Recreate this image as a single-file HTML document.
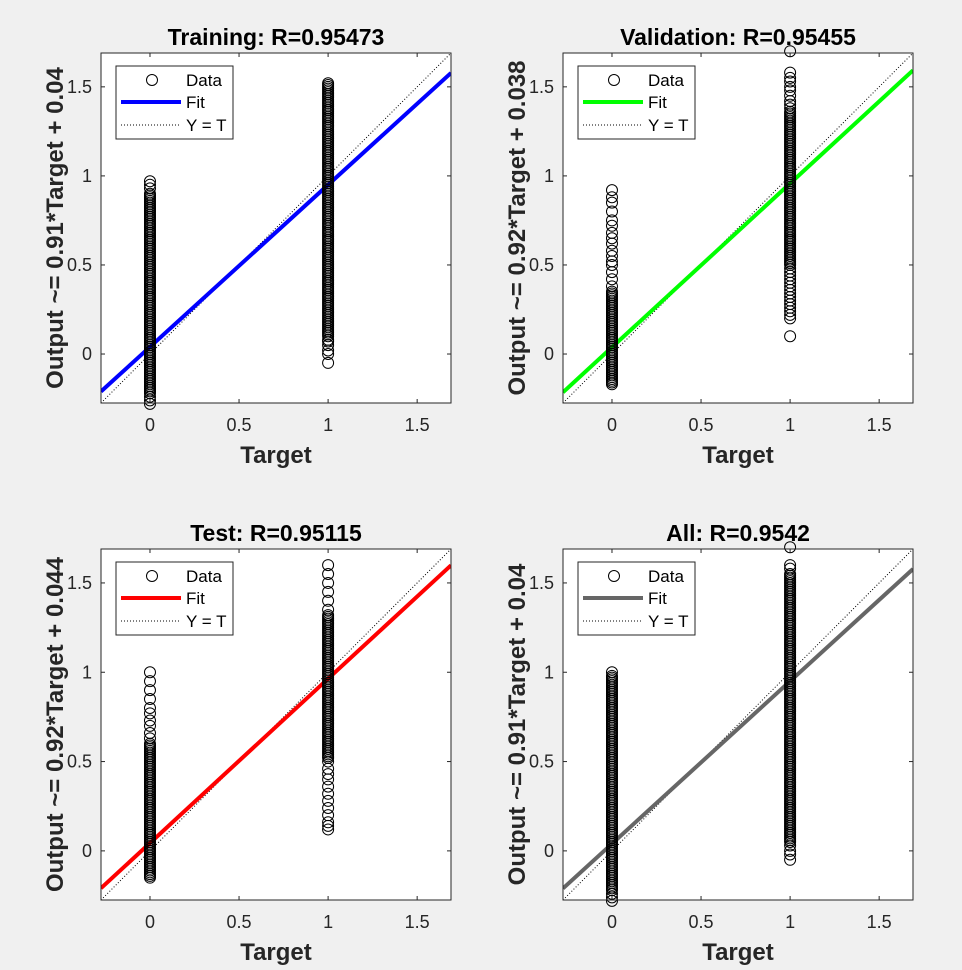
<!DOCTYPE html>
<html><head><meta charset="utf-8">
<style>
html,body{margin:0;padding:0;background:#f0f0f0;}
svg{display:block;font-family:"Liberation Sans",Arial,sans-serif;}
</style></head>
<body>
<svg id="fig" width="962" height="970" viewBox="0 0 962 970"></svg>
<script>
// ---- data ----
const panelTitles = ["Training: R=0.95473","Validation: R=0.95455","Test: R=0.95115","All: R=0.9542"];
const yLabels = ["Output ~= 0.91*Target + 0.04","Output ~= 0.92*Target + 0.038","Output ~= 0.92*Target + 0.044","Output ~= 0.91*Target + 0.04"];
const fitSlopes = [0.91,0.92,0.92,0.91];
const fitIntercepts = [0.04,0.038,0.044,0.04];
const fitColors = ["#0000ff","#00ff00","#ff0000","#666666"];
const tickValues = [0,0.5,1,1.5];
const tickLabels = ["0","0.5","1","1.5"];
// output values for target = 0 and target = 1, per panel
const trainT0 = [-0.28,-0.26,-0.24,-0.22,-0.21,-0.2,-0.19,-0.18,-0.17,-0.16,-0.15,-0.14,-0.13,-0.12,-0.11,-0.1,-0.09,-0.08,-0.07,-0.06,-0.05,-0.04,-0.03,-0.02,-0.01,0,0.01,0.02,0.03,0.04,0.05,0.06,0.07,0.08,0.09,0.1,0.11,0.12,0.13,0.14,0.15,0.16,0.17,0.18,0.19,0.2,0.21,0.22,0.23,0.24,0.25,0.26,0.27,0.28,0.29,0.3,0.31,0.32,0.33,0.34,0.35,0.36,0.37,0.38,0.39,0.4,0.41,0.42,0.43,0.44,0.45,0.46,0.47,0.48,0.49,0.5,0.51,0.52,0.53,0.54,0.55,0.56,0.57,0.58,0.59,0.6,0.61,0.62,0.63,0.64,0.65,0.66,0.67,0.68,0.69,0.7,0.71,0.72,0.73,0.74,0.75,0.76,0.77,0.78,0.79,0.8,0.81,0.82,0.83,0.84,0.85,0.86,0.87,0.88,0.89,0.9,0.93,0.95,0.97];
const trainT1 = [-0.05,0,0.02,0.05,0.07,0.08,0.1,0.11,0.12,0.13,0.14,0.15,0.16,0.17,0.18,0.19,0.2,0.21,0.22,0.23,0.24,0.25,0.26,0.27,0.28,0.29,0.3,0.31,0.32,0.33,0.34,0.35,0.36,0.37,0.38,0.39,0.4,0.41,0.42,0.43,0.44,0.45,0.46,0.47,0.48,0.49,0.5,0.51,0.52,0.53,0.54,0.55,0.56,0.57,0.58,0.59,0.6,0.61,0.62,0.63,0.64,0.65,0.66,0.67,0.68,0.69,0.7,0.71,0.72,0.73,0.74,0.75,0.76,0.77,0.78,0.79,0.8,0.81,0.82,0.83,0.84,0.85,0.86,0.87,0.88,0.89,0.9,0.91,0.92,0.93,0.94,0.95,0.96,0.97,0.98,0.99,1,1.01,1.02,1.03,1.04,1.05,1.06,1.07,1.08,1.09,1.1,1.11,1.12,1.13,1.14,1.15,1.16,1.17,1.18,1.19,1.2,1.21,1.22,1.23,1.24,1.25,1.26,1.27,1.28,1.29,1.3,1.31,1.32,1.33,1.34,1.35,1.36,1.37,1.38,1.39,1.4,1.41,1.42,1.43,1.44,1.45,1.46,1.47,1.48,1.49,1.5,1.51,1.52];
const valT0 = [-0.17,-0.16,-0.15,-0.14,-0.13,-0.12,-0.11,-0.1,-0.09,-0.08,-0.07,-0.06,-0.05,-0.04,-0.03,-0.02,-0.01,0,0.01,0.02,0.03,0.04,0.05,0.06,0.07,0.08,0.09,0.1,0.11,0.12,0.13,0.14,0.15,0.16,0.17,0.18,0.19,0.2,0.21,0.22,0.23,0.24,0.25,0.26,0.27,0.28,0.29,0.3,0.31,0.32,0.33,0.34,0.35,0.38,0.42,0.46,0.5,0.52,0.55,0.58,0.62,0.65,0.68,0.72,0.75,0.8,0.85,0.88,0.92];
const valT1 = [0.1,0.2,0.22,0.24,0.26,0.28,0.3,0.32,0.34,0.36,0.38,0.4,0.42,0.44,0.46,0.48,0.5,0.51,0.52,0.53,0.54,0.55,0.56,0.57,0.58,0.59,0.6,0.61,0.62,0.63,0.64,0.65,0.66,0.67,0.68,0.69,0.7,0.71,0.72,0.73,0.74,0.75,0.76,0.77,0.78,0.79,0.8,0.81,0.82,0.83,0.84,0.85,0.86,0.87,0.88,0.89,0.9,0.91,0.92,0.93,0.94,0.95,0.96,0.97,0.98,0.99,1,1.01,1.02,1.03,1.04,1.05,1.06,1.07,1.08,1.09,1.1,1.11,1.12,1.13,1.14,1.15,1.16,1.17,1.18,1.19,1.2,1.21,1.22,1.23,1.24,1.25,1.26,1.27,1.28,1.29,1.3,1.31,1.32,1.33,1.34,1.35,1.36,1.38,1.4,1.42,1.45,1.48,1.5,1.53,1.55,1.58,1.7];
const testT0 = [-0.15,-0.14,-0.13,-0.12,-0.11,-0.1,-0.09,-0.08,-0.07,-0.06,-0.05,-0.04,-0.03,-0.02,-0.01,0,0.01,0.02,0.03,0.04,0.05,0.06,0.07,0.08,0.09,0.1,0.11,0.12,0.13,0.14,0.15,0.16,0.17,0.18,0.19,0.2,0.21,0.22,0.23,0.24,0.25,0.26,0.27,0.28,0.29,0.3,0.31,0.32,0.33,0.34,0.35,0.36,0.37,0.38,0.39,0.4,0.41,0.42,0.43,0.44,0.45,0.46,0.47,0.48,0.49,0.5,0.51,0.52,0.53,0.54,0.55,0.56,0.57,0.58,0.59,0.6,0.63,0.66,0.7,0.73,0.77,0.8,0.85,0.9,0.95,1.0];
const testT1 = [0.12,0.14,0.16,0.2,0.24,0.28,0.32,0.36,0.4,0.43,0.46,0.5,0.52,0.53,0.54,0.55,0.56,0.57,0.58,0.59,0.6,0.61,0.62,0.63,0.64,0.65,0.66,0.67,0.68,0.69,0.7,0.71,0.72,0.73,0.74,0.75,0.76,0.77,0.78,0.79,0.8,0.81,0.82,0.83,0.84,0.85,0.86,0.87,0.88,0.89,0.9,0.91,0.92,0.93,0.94,0.95,0.96,0.97,0.98,0.99,1,1.01,1.02,1.03,1.04,1.05,1.06,1.07,1.08,1.09,1.1,1.11,1.12,1.13,1.14,1.15,1.16,1.17,1.18,1.19,1.2,1.21,1.22,1.23,1.24,1.25,1.26,1.27,1.28,1.29,1.3,1.31,1.32,1.35,1.4,1.45,1.5,1.55,1.6];
const allT0 = [-0.28,-0.26,-0.24,-0.22,-0.21,-0.2,-0.19,-0.18,-0.17,-0.16,-0.15,-0.14,-0.13,-0.12,-0.11,-0.1,-0.09,-0.08,-0.07,-0.06,-0.05,-0.04,-0.03,-0.02,-0.01,0,0.01,0.02,0.03,0.04,0.05,0.06,0.07,0.08,0.09,0.1,0.11,0.12,0.13,0.14,0.15,0.16,0.17,0.18,0.19,0.2,0.21,0.22,0.23,0.24,0.25,0.26,0.27,0.28,0.29,0.3,0.31,0.32,0.33,0.34,0.35,0.36,0.37,0.38,0.39,0.4,0.41,0.42,0.43,0.44,0.45,0.46,0.47,0.48,0.49,0.5,0.51,0.52,0.53,0.54,0.55,0.56,0.57,0.58,0.59,0.6,0.61,0.62,0.63,0.64,0.65,0.66,0.67,0.68,0.69,0.7,0.71,0.72,0.73,0.74,0.75,0.76,0.77,0.78,0.79,0.8,0.81,0.82,0.83,0.84,0.85,0.86,0.87,0.88,0.89,0.9,0.91,0.92,0.93,0.94,0.95,0.96,0.97,0.98,1.0];
const allT1 = [-0.05,-0.02,0,0.03,0.05,0.06,0.07,0.08,0.09,0.1,0.11,0.12,0.13,0.14,0.15,0.16,0.17,0.18,0.19,0.2,0.21,0.22,0.23,0.24,0.25,0.26,0.27,0.28,0.29,0.3,0.31,0.32,0.33,0.34,0.35,0.36,0.37,0.38,0.39,0.4,0.41,0.42,0.43,0.44,0.45,0.46,0.47,0.48,0.49,0.5,0.51,0.52,0.53,0.54,0.55,0.56,0.57,0.58,0.59,0.6,0.61,0.62,0.63,0.64,0.65,0.66,0.67,0.68,0.69,0.7,0.71,0.72,0.73,0.74,0.75,0.76,0.77,0.78,0.79,0.8,0.81,0.82,0.83,0.84,0.85,0.86,0.87,0.88,0.89,0.9,0.91,0.92,0.93,0.94,0.95,0.96,0.97,0.98,0.99,1,1.01,1.02,1.03,1.04,1.05,1.06,1.07,1.08,1.09,1.1,1.11,1.12,1.13,1.14,1.15,1.16,1.17,1.18,1.19,1.2,1.21,1.22,1.23,1.24,1.25,1.26,1.27,1.28,1.29,1.3,1.31,1.32,1.33,1.34,1.35,1.36,1.37,1.38,1.39,1.4,1.41,1.42,1.43,1.44,1.45,1.46,1.47,1.48,1.49,1.5,1.51,1.52,1.53,1.54,1.55,1.58,1.6,1.7];
const t0Sets = [trainT0,valT0,testT0,allT0];
const t1Sets = [trainT1,valT1,testT1,allT1];
const xLimits = [-0.275,1.69];
const yLimits = [-0.275,1.69];

const NS="http://www.w3.org/2000/svg";
const fig=document.getElementById('fig');
function mk(tag,attrs,parent){const e=document.createElementNS(NS,tag);for(const k in attrs)e.setAttribute(k,attrs[k]);(parent||fig).appendChild(e);return e;}
const boxes=[{l:101,t:53,r:451,b:403},{l:563,t:53,r:913,b:403},{l:101,t:549,r:451,b:900},{l:563,t:549,r:913,b:900}];
const names=["training","validation","test","all"];

boxes.forEach((bx,i)=>{
  const g=mk('g',{});
  
  
  const sx=v=>bx.l+(v-xLimits[0])/(xLimits[1]-xLimits[0])*(bx.r-bx.l);
  const sy=v=>bx.b-(v-yLimits[0])/(yLimits[1]-yLimits[0])*(bx.b-bx.t);
  const bg=mk('rect',{x:bx.l,y:bx.t,width:bx.r-bx.l,height:bx.b-bx.t,fill:'#fff'},g);
  
  
  const cp='clip'+i;
  const cl=mk('clipPath',{id:cp},g);
  mk('rect',{x:bx.l,y:bx.t,width:bx.r-bx.l,height:bx.b-bx.t},cl);
  tickValues.forEach((tv,k)=>{
    const x=sx(tv), y=sy(tv);
    mk('line',{x1:x,y1:bx.b,x2:x,y2:bx.b-4,stroke:'#262626'},g);
    mk('line',{x1:x,y1:bx.t,x2:x,y2:bx.t+4,stroke:'#262626'},g);
    mk('line',{x1:bx.l,y1:y,x2:bx.l+4,y2:y,stroke:'#262626'},g);
    mk('line',{x1:bx.r,y1:y,x2:bx.r-4,y2:y,stroke:'#262626'},g);
    const xt=mk('text',{x:x,y:bx.b+28,'text-anchor':'middle','font-size':18,fill:'#262626'},g);
    xt.textContent=tickLabels[k];
    
    
    const yt=mk('text',{x:bx.l-9,y:y+6,'text-anchor':'end','font-size':18,fill:'#262626'},g);
    yt.textContent=tickLabels[k];
    
    
  });
  const inner=mk('g',{'clip-path':'url(#'+cp+')'},g);
  const yt=mk('line',{x1:sx(xLimits[0]),y1:sy(xLimits[0]),x2:sx(xLimits[1]),y2:sy(xLimits[1]),stroke:'#000','stroke-width':1,'stroke-dasharray':'1,2'},inner);
  
  
  const fl=mk('line',{x1:sx(xLimits[0]),y1:sy(fitSlopes[i]*xLimits[0]+fitIntercepts[i]),x2:sx(xLimits[1]),y2:sy(fitSlopes[i]*xLimits[1]+fitIntercepts[i]),stroke:fitColors[i],'stroke-width':4},inner);
  
  
  [[0,t0Sets[i]],[1,t1Sets[i]]].forEach(([t,arr])=>{
    arr.forEach(v=>{
      const c=mk('circle',{cx:sx(t),cy:sy(v),r:5.5,fill:'none',stroke:'#000','stroke-width':1},g);
      
      
    });
  });
  const fr=mk('rect',{x:bx.l,y:bx.t,width:bx.r-bx.l,height:bx.b-bx.t,fill:'none',stroke:'#262626','stroke-width':1},g);
  
  
  const ti=mk('text',{x:(bx.l+bx.r)/2,y:bx.t-8,'text-anchor':'middle','font-size':23,'font-weight':'bold',fill:'#000'},g);
  ti.textContent=panelTitles[i];
  
  
  const xl=mk('text',{x:(bx.l+bx.r)/2,y:bx.b+60,'text-anchor':'middle','font-size':24,'font-weight':'bold',fill:'#262626'},g);
  xl.textContent='Target';
  
  
  const cy=(bx.t+bx.b)/2, cx=bx.l-38;
  const yl=mk('text',{x:cx,y:cy,'text-anchor':'middle','font-size':24,'font-weight':'bold',fill:'#262626',transform:'rotate(-90 '+cx+' '+cy+')'},g);
  yl.textContent=yLabels[i];
  
  
  const lx=bx.l+15, ly=bx.t+13;
  const lg=mk('g',{},g);
  
  
  mk('rect',{x:lx,y:ly,width:117,height:73,fill:'#fff',stroke:'#262626','stroke-width':1},lg);
  mk('circle',{cx:lx+36,cy:ly+14,r:5.5,fill:'none',stroke:'#000'},lg);
  mk('line',{x1:lx+5,y1:ly+36,x2:lx+65,y2:ly+36,stroke:fitColors[i],'stroke-width':4},lg);
  mk('line',{x1:lx+5,y1:ly+59,x2:lx+65,y2:ly+59,stroke:'#000','stroke-dasharray':'1,2'},lg);
  [['Data',20],['Fit',42],['Y = T',65]].forEach(([s,dy])=>{
    const t=mk('text',{x:lx+70,y:ly+dy,'font-size':17,fill:'#000'},lg);
    t.textContent=s;
    
    
  });
});
</script>
</body></html>
